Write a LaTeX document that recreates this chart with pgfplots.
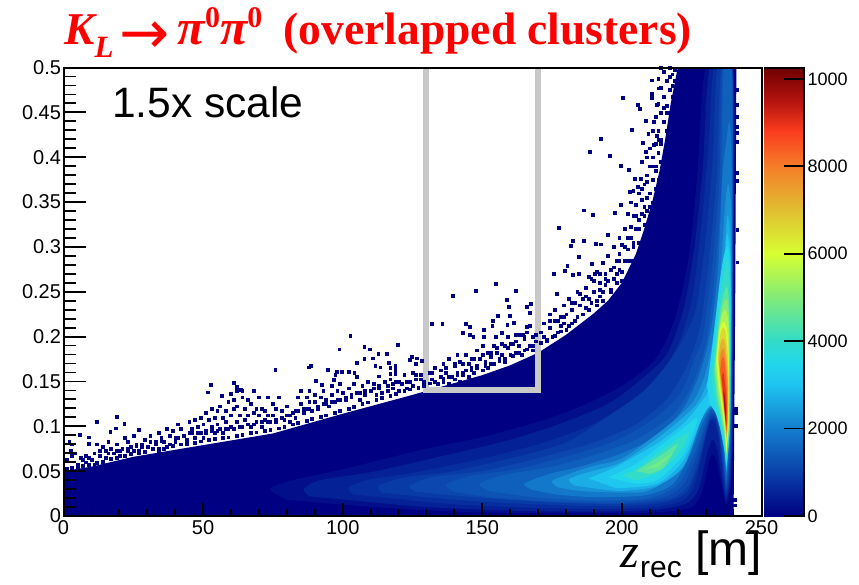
\documentclass[border=0pt]{standalone}
\usepackage{pgfplots}
\pgfplotsset{compat=1.18}
\usepackage{fontspec}
\setmainfont{Liberation Sans}
\newfontfamily\timesf{Liberation Serif}
\newfontfamily\arrowf{DejaVu Sans}
\definecolor{Base}{RGB}{0,0,130}
\definecolor{L300}{RGB}{2,14,138}
\definecolor{L500}{RGB}{5,33,150}
\definecolor{L700}{RGB}{7,46,158}
\definecolor{L900}{RGB}{9,59,166}
\definecolor{L1100}{RGB}{11,71,174}
\definecolor{L1300}{RGB}{13,83,181}
\definecolor{L1500}{RGB}{15,95,188}
\definecolor{L1900}{RGB}{19,119,202}
\definecolor{L2300}{RGB}{23,146,216}
\definecolor{L2700}{RGB}{27,174,230}
\definecolor{L3100}{RGB}{31,199,240}
\definecolor{L3500}{RGB}{35,215,235}
\definecolor{L4000}{RGB}{50,220,200}
\definecolor{L4500}{RGB}{90,228,160}
\definecolor{L4800}{RGB}{114,234,136}
\definecolor{L5000}{RGB}{130,235,120}
\definecolor{L5500}{RGB}{172,245,85}
\definecolor{L6000}{RGB}{215,255,50}
\definecolor{L6600}{RGB}{221,216,50}
\definecolor{L7200}{RGB}{229,177,48}
\definecolor{L7800}{RGB}{241,138,42}
\definecolor{L8400}{RGB}{248,92,35}
\definecolor{L9000}{RGB}{230,49,26}
\definecolor{L9600}{RGB}{170,17,13}
\definecolor{Box}{RGB}{200,200,200}
\pgfplotsset{
  colormap={rootmap}{rgb255(0)=(0,0,130) rgb255(1000)=(10,65,170) rgb255(2000)=(20,125,205)
    rgb255(3000)=(30,195,240) rgb255(3500)=(35,215,235) rgb255(4000)=(50,220,200)
    rgb255(5000)=(130,235,120) rgb255(6000)=(215,255,50) rgb255(7000)=(225,190,50)
    rgb255(8000)=(245,125,40) rgb255(8800)=(250,60,30) rgb255(9500)=(180,20,15) rgb255(10260)=(110,0,0)},
  lev/.style={fill=#1,draw=none,forget plot,smooth,tension=.45}
}
\begin{document}
\begin{tikzpicture}
\path[use as bounding box] (0,0) rectangle (859pt,584pt);
\begin{axis}[name=main,at={(63.5pt,68pt)},anchor=south west,scale only axis,width=698pt,height=448.5pt,
  xmin=0,xmax=250,ymin=0,ymax=0.5,axis on top,
  axis line style={line width=2pt},
  xtick={0,50,100,150,200,250},xticklabels={0,50,100,150,200,250},minor x tick num=4,
  ytick=\empty,
  tick align=inside,xtick pos=bottom,tickwidth=13pt,subtickwidth=7pt,
  tick style={black,line width=1.8pt},
  tick label style={font=\fontsize{20}{23}\selectfont},
  xticklabel style={yshift=-1pt}]
% population outline
\addplot[fill=Base,draw=none,forget plot] coordinates {(0,0)(0,.05)(10,.055)(25,.066)(50,.079)(75,.092)(100,.114)(125,.135)(150,.157)(160,.168)(170,.182)(180,.202)(190,.226)(195,.24)(200,.26)(205,.292)(208,.32)(211,.352)(213.5,.385)(215.5,.42)(217.5,.46)(220,.5)(241,.5)(240.6,.25)(240,0)};
% level contours
\addplot[lev=L300] coordinates {(80,.018)(74,.03)(82,.04)(100,.052)(130,.075)(150,.088)(170,.105)(185,.122)(200,.145)(212,.175)(219,.22)(224,.29)(227,.38)(230,.5)(239.9,.5)(239.9,.25)(239.6,.08)(238.8,.03)(237.3,.012)(235.7,.035)(233.5,.065)(231.5,.065)(229,.03)(225,.01)(212,.004)(185,.003)(150,.004)(120,.008)(95,.014)};
\addplot[lev=L500] coordinates {(88,.022)(86,.03)(92,.04)(112,.05)(140,.07)(160,.085)(178,.103)(195,.125)(206,.15)(216,.18)(222,.23)(226,.3)(229,.39)(231.5,.5)(239.8,.5)(239.8,.25)(239.5,.085)(238.7,.035)(237.3,.017)(235.8,.042)(234.1,.075)(232.4,.085)(230.5,.07)(227.5,.03)(223,.014)(212,.007)(190,.005)(160,.006)(130,.01)(108,.016)};
\addplot[lev=L700] coordinates {(104,.024)(102,.032)(110,.041)(125,.048)(150,.064)(170,.08)(188,.1)(202,.125)(212,.15)(220,.19)(225,.24)(228,.31)(231,.41)(233,.5)(239.6,.5)(239.7,.25)(239.4,.09)(238.6,.04)(237.3,.022)(236,.05)(234.7,.085)(233.3,.105)(231.5,.105)(229.5,.08)(226,.035)(222,.018)(212,.01)(195,.008)(170,.009)(140,.013)(120,.019)};
\addplot[lev=L900] coordinates {(114,.026)(113,.034)(122,.043)(138,.049)(161,.065)(180,.082)(196,.113)(208,.14)(218,.177)(226,.225)(229.5,.295)(232.5,.395)(234.2,.5)(239.5,.5)(239.6,.25)(239.3,.095)(238.5,.045)(237.3,.026)(236.1,.055)(234.9,.088)(233.5,.108)(231.8,.108)(230,.09)(227,.052)(223,.026)(215,.015)(200,.011)(178,.012)(150,.016)(130,.021)};
\addplot[lev=L1100] coordinates {(126,.027)(124,.034)(133,.044)(150,.05)(172,.066)(190,.082)(205,.102)(216,.13)(223,.165)(228,.21)(231,.28)(234,.38)(235.5,.5)(239.5,.5)(239.6,.25)(239.2,.10)(238.4,.05)(237.3,.03)(236.2,.06)(235,.09)(233.7,.11)(232,.112)(230.5,.1)(228,.07)(224,.035)(218,.02)(205,.014)(185,.014)(160,.018)(140,.023)};
\addplot[lev=L1300] coordinates {(140,.027)(137,.035)(146,.045)(162,.052)(181,.067)(197,.083)(211,.107)(221,.137)(226,.175)(229,.2)(232,.27)(234.8,.37)(236,.5)(239.45,.5)(239.55,.25)(239.15,.105)(238.3,.055)(237.3,.034)(236.3,.065)(235.1,.092)(233.7,.112)(232,.115)(230.2,.102)(227,.07)(222,.035)(214,.02)(198,.015)(175,.016)(152,.021)};
\addplot[lev=L1500] coordinates {(152,.028)(149,.036)(158,.046)(175,.055)(190,.068)(205,.085)(218,.112)(225,.145)(230,.19)(233,.26)(235.5,.36)(236.5,.5)(239.4,.5)(239.5,.25)(239.1,.11)(238.2,.06)(237.3,.038)(236.4,.07)(235.3,.095)(233.7,.115)(232,.118)(230,.105)(226,.07)(220,.035)(210,.02)(190,.017)(168,.021)};
\addplot[lev=L1900] coordinates {(168,.029)(165,.036)(174,.047)(185,.055)(200,.07)(213,.09)(222,.12)(228,.16)(232,.21)(234.5,.28)(236,.38)(237.5,.42)(238.5,.44)(239.3,.4)(239.4,.25)(239,.115)(238.1,.068)(237.4,.045)(236.5,.075)(235.5,.1)(233.8,.117)(232,.12)(229,.105)(224,.065)(218,.035)(208,.023)(190,.021)(176,.024)};
\addplot[lev=L2300] coordinates {(177,.032)(175,.039)(182,.048)(190,.056)(200,.064)(212,.09)(220,.11)(226,.13)(230,.16)(233.5,.215)(235.5,.28)(236.8,.34)(238,.37)(239.2,.34)(239.3,.25)(238.9,.12)(238,.07)(237.4,.05)(236.6,.08)(235.7,.105)(234,.118)(232,.122)(229,.11)(224,.08)(218,.045)(208,.027)(190,.027)(182,.029)};
\addplot[lev=L2700] coordinates {(183,.034)(181,.041)(187,.048)(192,.052)(200,.06)(212,.085)(222,.11)(228,.13)(232,.165)(235,.22)(236.5,.28)(237.7,.335)(238.9,.31)(239.1,.2)(238.8,.125)(237.9,.07)(237.4,.053)(236.7,.08)(235.8,.107)(234,.12)(232,.123)(229,.112)(222,.055)(212,.033)(200,.028)(192,.03)};
\addplot[lev=L3100] coordinates {(188,.042)(198,.055)(212.7,.081)(222,.103)(228,.125)(231,.14)(233,.175)(235.5,.23)(236.8,.285)(237.7,.315)(238.8,.29)(238.9,.2)(238.7,.125)(237.9,.075)(237.4,.056)(236.8,.08)(235.9,.105)(234,.12)(231.5,.123)(228.5,.108)(222,.062)(212.7,.036)(198,.031)};
% crescent
\addplot[lev=L3500] coordinates {(195,.043)(205,.058)(212.7,.076)(222,.098)(226,.108)(227,.106)(222,.068)(212.7,.04)(205,.036)};
\addplot[lev=L4000] coordinates {(200,.045)(205,.052)(212.7,.07)(220,.086)(224,.092)(220,.068)(212.7,.048)(205,.04)};
\addplot[lev=L4500] coordinates {(205,.05)(210,.06)(215,.07)(220,.08)(215,.054)(210,.047)};
\addplot[lev=L4800] coordinates {(208,.052)(213,.06)(218,.07)(213,.054)};
% ridge
\addplot[lev=L3500] coordinates {(230.5,.145)(232,.18)(233.5,.22)(235,.26)(236.5,.29)(238,.3)(238.9,.26)(238.9,.16)(238.7,.1)(238,.07)(237.4,.058)(236.6,.075)(235,.1)(233.5,.115)(231.5,.125)};
\addplot[lev=L4000] coordinates {(232,.155)(233.5,.2)(235,.24)(236.5,.27)(237.8,.285)(238.7,.24)(238.7,.15)(238.5,.1)(237.8,.075)(237.4,.063)(236.7,.08)(235.2,.105)(233.5,.125)};
\addplot[lev=L4500] coordinates {(233,.16)(234.3,.205)(235.5,.235)(236.7,.25)(237.8,.255)(238.5,.225)(238.6,.15)(238.4,.1)(237.8,.078)(237.4,.067)(236.8,.085)(235.5,.11)(234,.13)};
\addplot[lev=L5000] coordinates {(233.3,.165)(234.5,.205)(235.8,.23)(236.8,.24)(237.8,.24)(238.4,.215)(238.5,.15)(238.3,.1)(237.7,.08)(237.4,.07)(236.9,.09)(235.7,.112)(234.3,.135)};
\addplot[lev=L5500] coordinates {(233.6,.17)(234.7,.205)(235.9,.225)(237,.23)(238,.22)(238.4,.19)(238.4,.145)(238.2,.1)(237.6,.08)(237.4,.07)(236.9,.092)(235.9,.115)(234.6,.14)};
\addplot[lev=L6000] coordinates {(233.9,.175)(234.9,.205)(236,.215)(237,.215)(237.9,.2)(238.3,.17)(238.3,.14)(238.1,.1)(237.6,.08)(237.4,.072)(237,.095)(236,.118)(234.8,.145)};
\addplot[lev=L6600] coordinates {(234.3,.178)(235.1,.2)(236,.21)(237,.207)(237.8,.185)(238.2,.155)(238.1,.125)(237.9,.098)(237.5,.083)(237.1,.098)(236.2,.122)(235.1,.148)};
\addplot[lev=L7200] coordinates {(234.6,.175)(235.3,.192)(236.2,.198)(237,.192)(237.7,.17)(238,.145)(238,.118)(237.8,.1)(237.4,.088)(237,.105)(236.2,.128)(235.3,.15)};
\addplot[lev=L7800] coordinates {(234.9,.17)(235.5,.183)(236.3,.187)(237,.177)(237.7,.155)(237.9,.13)(237.8,.105)(237.4,.092)(237,.108)(236.2,.13)(235.5,.15)};
\addplot[lev=L8400] coordinates {(235.2,.163)(235.8,.175)(236.4,.177)(237,.165)(237.6,.14)(237.7,.115)(237.4,.095)(237,.11)(236.3,.132)(235.6,.15)};
\addplot[lev=L9000] coordinates {(235.8,.155)(236.4,.16)(237,.145)(237.5,.125)(237.5,.105)(237.3,.1)(236.9,.115)(236.3,.135)};
\addplot[lev=L9600] coordinates {(236.3,.14)(236.8,.135)(237.3,.118)(237.3,.105)(237,.11)(236.6,.125)};
% sparsely filled bins
\addplot[only marks,color=Base,mark=square*,mark size=1.4pt,line width=.3pt,forget plot] coordinates {
(2,.0825)(3,.08)(2.5,.0725)(4,.07)(1,.0625)(5,.0575)(3,.0675)(6,.065)(7,.0625)(8,.0675)(9,.065)(8,.06)(10,.0625)(11,.0575)(5.9,.091)(8.9,.088)(8.9,.081)(11.9,.1055)(18.9,.111)(21.7,.103)(18.8,.098)(16.7,.094)(26.8,.096)
(11,.07)(12,.08)(13,.0725)(14,.0775)(15,.0725)(15,.065)(16,.0825)(17,.075)(18,.07)(19,.08)(19,.0725)(20,.0675)(21,.075)(22,.0875)(23,.0825)(23,.0725)(24,.0775)(25,.09)(25,.0725)(26,.08)(27,.0725)(28,.0775)(29,.085)(30,.0775)(31,.09)(31,.0825)(32,.075)(33,.08)(34,.0925)(34,.0725)(35,.0875)(36,.0825)(36,.075)(37,.0975)(38,.09)(38,.08)(39,.095)(40,.0875)(40,.0825)(41,.1025)(42,.0975)(43,.09)(44,.085)(45,.105)(45,.0925)(46,.0975)(47,.0875)(47,.1075)(48,.1)(49,.0925)(49,.11)(50,.1025)(50,.0875)(51,.115)(51,.095)(52,.1075)(53,.1)(53,.12)(54,.11)(54,.0925)(55,.1175)(55,.1025)(56,.1225)(56,.0975)(57,.11)(57,.0925)(58,.1175)(58,.105)(59,.1275)(59,.0975)(60,.1125)(60,.1)(61,.13)(61,.12)(62,.14)(62,.105)(62,.1225)(63,.1125)(64,.1325)(64,.1)(64,.14)(65,.12)(65,.1075)(66,.13)(66,.1125)(67,.125)(67,.1)(68,.14)(68,.115)(69,.12)(69,.105)(70,.1325)(70,.1125)(71,.12)(71,.1)(72,.1075)(72,.1175)(73,.1325)(73,.1125)(74,.105)(75,.125)(75,.1125)(76,.12)(76,.105)(77,.1325)(78,.1175)(78,.11)(79,.1075)(80,.1225)(80,.1125)(81,.105)(82,.115)(83,.11)(84,.1325)(84,.1175)(85,.14)(85,.125)(86,.115)(87,.1325)(87,.12)(88,.14)(88,.1275)(89,.1175)(90,.1275)(90,.135)(91,.12)(92,.1325)(93,.125)(93,.14)(94,.13)(95,.1225)(96,.135)(96,.145)(97,.1275)(98,.14)(99,.13)(99,.1475)(100,.1375)(101,.13)(102,.1425)(103,.135)(104,.1475)(105,.1375)(105,.155)(106,.13)(107,.145)(108,.135)(109,.15)(110,.14)(111,.1475)(112,.135)(113,.145)(114,.1375)(115,.15)(116,.14)(117,.1525)(118,.1425)(119,.15)(120,.14)(121,.1475)(122,.1575)(123,.1425)(124,.15)(125,.16)(125,.145)(126,.1525)(127,.1425)(128,.1575)(129,.15)
(52.8,.146)(51.6,.138)(56.7,.134)(59.9,.136)(60.9,.149)(62,.144)(63.5,.141)(75.8,.1635)(88.4,.168)(87.7,.166)(90.4,.151)(92.5,.146)(94.7,.1635)(96.7,.152)(97.7,.161)(97.3,.158)(99.7,.161)(98.7,.186)(102,.161)(102.7,.2007)(104.1,.16)(105,.171)(107.7,.175)(107.7,.189)(109.6,.186)(110.8,.176)(111.6,.168)(112.7,.181)(112.8,.156)(113.4,.166)(115.8,.181)(116.4,.171)(117,.165)(117,.159)(118.8,.168)(118.8,.1635)(118.8,.159)(119.6,.191)(124,.174)(124.6,.178)(126,.17)(126.6,.176)(128.4,.173)
(131,.16)(132,.1525)(133,.165)(134,.1475)(135,.155)(136,.17)(136,.15)(137,.16)(138,.1475)(138,.175)(139,.155)(140,.1675)(140,.1525)(141,.18)(141,.16)(142,.15)(143,.17)(143,.1575)(144,.1625)(144,.18)(145,.155)(146,.175)(146,.165)(147,.16)(148,.185)(148,.1675)(149,.175)(150,.1625)(150,.19)(151,.1725)(152,.165)(152,.1825)(153,.1775)(154,.17)(154,.19)(155,.1825)(156,.175)(157,.1925)(157,.18)(158,.1725)(159,.1875)(159,.2)(160,.18)(161,.1925)(162,.1825)(163,.2025)(163,.19)(164,.18)(165,.1975)(165,.185)(166,.205)(167,.19)(167,.2125)(168,.2)(168,.185)(169,.195)
(154.7,.2586)(147.7,.251)(139.5,.246)(162,.251)(158.6,.241)(159.5,.233)(166,.233)(167.2,.237)(155.6,.223)(159.7,.223)(153.8,.218)(167,.227)(135.6,.214)(131.8,.214)(143.9,.214)(145.5,.211)(153.5,.212)(161.2,.2155)(150.5,.208)(158.9,.213)(166,.211)(142.9,.204)(145.5,.202)(146.7,.2)(150.5,.2)(154.8,.2)(157,.204)(162,.202)(164.5,.202)
(172,.215)(172,.2)(173,.195)(174,.225)(174,.21)(175,.2)(176,.2175)(176,.23)(177,.205)(178,.2225)(178,.2125)(179,.235)(179,.215)(180,.225)(180,.2075)(181,.2425)(182,.23)(182,.215)(183,.2375)(184,.2225)(184,.25)(185,.235)(186,.2425)(186,.225)(187,.255)(187,.2325)(188,.2425)(189,.265)(189,.2375)(190,.25)(191,.2725)(191,.24)(192,.26)(192,.245)(193,.2825)(193,.25)(194,.27)(194,.2575)(195,.29)(195,.2625)(196,.275)(196,.2525)(197,.3)(197,.265)(198,.285)(198,.27)(199,.31)(199,.275)(199,.2925)(200,.3025)(200,.2625)(201,.32)(201,.285)(202,.3375)(202,.2975)(202,.31)(203,.35)(203,.3225)(203,.285)(204,.3625)(204,.335)(204,.305)(205,.3475)(205,.32)(206,.36)(206,.33)(206,.305)(207,.395)(207,.3525)(207,.3375)(208,.37)(208,.345)(208,.325)(209,.4)(209,.38)(209,.355)(209,.34)(210,.41)(210,.39)(210,.36)(210,.345)(211,.43)(211,.4)(211,.375)(211,.35)(212,.445)(212,.415)(212,.39)(212,.365)(213,.4875)(213,.46)(213,.43)(213,.405)(213,.375)(214,.5)(214,.4775)(214,.45)(214,.42)(214,.395)(215,.495)(215,.4675)(215,.44)(216,.485)(216,.4575)(216,.43)(217,.5)(217,.475)(217,.45)(218,.4925)(218,.4675)(219,.485)(219,.4975)
(176.5,.248)(210.6,.486)(200.4,.466)(213.2,.477)(210.6,.471)(210.6,.466)(205.5,.459)(206.4,.454)(212.4,.459)(208.4,.441)(211.4,.4396)(203.4,.431)(209.4,.4266)(192.5,.421)(207.5,.4166)(212.4,.424)(211.4,.4136)(188.4,.406)(195.5,.4017)(208.4,.406)(199.5,.391)(202.5,.3865)(204.5,.3764)(206.8,.3764)(202.8,.3616)(205.5,.367)(186.3,.341)(189.6,.336)(197.5,.3385)(199.5,.3467)(177.4,.3214)(194.9,.314)(182.5,.3066)(186.3,.3066)(181.5,.301)(190.5,.304)(192.3,.303)(184.5,.289)(189.3,.281)(180.4,.279)(179.5,.2735)(175.6,.2705)(182.5,.2687)(184.5,.2705)(188,.267)(190.3,.2705)(192,.2705)
(241.3,.475)(241.3,.459)(241.3,.445)(241.3,.434)(241.3,.427)(241.3,.417)(241.3,.383)(241.3,.374)(241.3,.319)(241.3,.283)(240.6,.12)(240.6,.115)(240.6,.101)(240.3,.018)(240.3,.012)
(1,.0525)(3,.0535)(5,.055)(7,.056)(9,.057)(12,.0595)(14,.061)(17,.064)(19,.065)(22,.067)(24,.0695)(27,.0705)(29,.072)(32,.0745)(34,.075)(37,.077)(39,.078)(42,.08)(44,.081)(47,.082)(49,.0835)(52,.085)(54,.086)(57,.087)(59,.088)(62,.09)(64,.091)(67,.0925)(69,.0935)(72,.095)(74,.0965)(77,.098)(79,.1)(82,.1025)(84,.1045)(87,.1065)(89,.1085)(92,.1105)(94,.1125)(97,.1155)(99,.1175)(102,.12)(104,.122)(107,.125)(109,.127)(112,.13)(114,.132)(117,.1345)(119,.1365)(122,.1395)(124,.1415)(127,.1435)(129,.1455)
(131,.148)(133,.15)(136,.153)(138,.155)(141,.158)(143,.16)(146,.163)(148,.165)(151,.168)(153,.17)(156,.173)(158,.176)(161,.179)(163,.182)(166,.186)(168,.19)(171,.193)(173,.197)(176,.201)(178,.206)(181,.212)(183,.218)(186,.225)(188,.23)(191,.235)(193,.24)(196,.25)(198,.26)(200,.272)(202,.285)(204,.3)(206,.32)(208,.335)(210,.36)(212,.385)(214,.415)(216,.45)(218,.48)
(13,.0675)(16,.07)(20,.0725)(23,.075)(26,.078)(28,.08)(33,.0825)(35,.084)(41,.0875)(43,.09)(46,.0925)(48,.0925)(51,.0925)(53,.095)(55,.095)(58,.0975)(61,.0975)(63,.1)(66,.1025)(68,.1025)(71,.105)(73,.105)(76,.1075)(78,.11)(81,.1125)(83,.1175)(86,.12)(88,.12)(91,.1225)(94,.125)(96,.1275)(98,.13)(101,.1325)(103,.1325)(106,.1375)(108,.14)(111,.1425)(113,.1425)(116,.145)(118,.1475)(120,.15)(123,.15)(126,.1575)(128,.1525)
(132,.16)(135,.1625)(137,.165)(140,.17)(142,.1725)(145,.17)(147,.175)(150,.18)(153,.1825)(155,.1875)(158,.19)(160,.1925)(162,.195)(165,.2)(169,.2025)(171,.205)(174,.2175)(177,.2175)(179,.2225)(182,.2375)(185,.2475)(187,.245)(190,.2625)(192,.2525)(194,.265)(197,.2775)(199,.285)(201,.3)(203,.31)(205,.335)(207,.365)(209,.3725)(211,.39)(213,.42)(215,.455)(217,.49)
};
% signal box
\addplot[color=Box,line width=6pt,line join=miter,forget plot] coordinates {(129.9,.52)(129.9,.14)(169.8,.14)(169.8,.52)};
\end{axis}
% y ticks are longer than x ticks
\begin{axis}[at={(63.5pt,68pt)},anchor=south west,scale only axis,width=698pt,height=448.5pt,
  xmin=0,xmax=250,ymin=0,ymax=0.5,
  axis line style={line width=2pt},
  xtick=\empty,
  ytick={0,.05,.1,.15,.2,.25,.3,.35,.4,.45,.5},
  yticklabels={0,0.05,0.1,0.15,0.2,0.25,0.3,0.35,0.4,0.45,0.5},
  minor y tick num=4,
  tick align=inside,ytick pos=left,tickwidth=22pt,subtickwidth=12pt,
  tick style={black,line width=1.8pt},
  tick label style={font=\fontsize{20}{23}\selectfont},
  yticklabel style={xshift=1pt}]
\end{axis}
% colour scale
\begin{axis}[at={(764pt,68pt)},anchor=south west,scale only axis,width=40pt,height=448.5pt,
  xmin=0,xmax=1,ymin=0,ymax=10260,axis on top,
  colormap name=rootmap,point meta min=0,point meta max=10260,
  axis x line=none,axis y line*=right,
  axis line style={line width=2pt,-},
  xtick=\empty,ytick={0,2000,4000,6000,8000,10000},
  yticklabels={0,2000,4000,6000,8000,1000},
  tick align=inside,tickwidth=20pt,
  tick style={black,line width=1.8pt},
  tick label style={font=\fontsize{18}{21}\selectfont},
  scaled y ticks=false]
\addplot[surf,shader=interp,mesh/rows=13,mesh/cols=2,point meta=explicit] table[x=x,y=v,meta=v] {
x v
0 0
1 0
0 1000
1 1000
0 2000
1 2000
0 3000
1 3000
0 3500
1 3500
0 4000
1 4000
0 5000
1 5000
0 6000
1 6000
0 7000
1 7000
0 8000
1 8000
0 8800
1 8800
0 9500
1 9500
0 10260
1 10260
};
\end{axis}
\draw[black,line width=2pt] (764pt,516pt) -- (804pt,516pt);
\node[anchor=base west,inner sep=0pt,text=red] at (64pt,539pt) {\timesf\fontsize{45.5}{48}\selectfont\bfseries\itshape K\raisebox{-.28em}{\fontsize{31}{31}\selectfont L}\hspace{.14em}\raisebox{-9pt}{\arrowf\upshape\mdseries\fontsize{60}{60}\selectfont →}\hspace{.17em}{\fontsize{50}{48}\selectfont π}\raisebox{.38em}{\fontsize{30}{30}\selectfont\upshape 0}{\fontsize{50}{48}\selectfont π}\raisebox{.38em}{\fontsize{30}{30}\selectfont\upshape 0}\hspace{.47em}\upshape (overlapped clusters)};
\node[anchor=base west,inner sep=0pt] at (112pt,466pt) {\fontsize{42.5}{46}\selectfont 1.5x scale};
\node[anchor=base west,inner sep=0pt] at (620pt,17pt) {\timesf\itshape\fontsize{48}{50}\selectfont z};
\node[anchor=base west,inner sep=0pt] at (640pt,7pt) {\fontsize{30}{32}\selectfont rec};
\node[anchor=base west,inner sep=0pt] at (695pt,19pt) {\fontsize{48}{50}\selectfont [m]};
\end{tikzpicture}
\end{document}
